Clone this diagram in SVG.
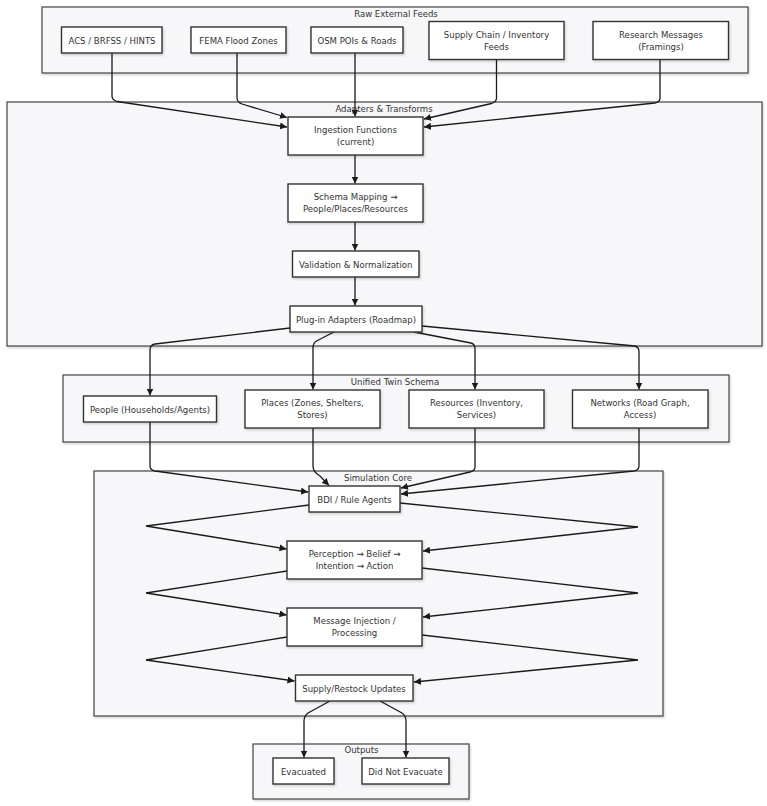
<svg xmlns="http://www.w3.org/2000/svg" width="767" height="806" viewBox="0 0 767 806">
<style>
.cl{fill:#f7f7f9;stroke:#444;stroke-width:1.2}
.nd{fill:#fff;stroke:#333;stroke-width:1.4}
.t{font-family:'DejaVu Sans Condensed','Liberation Sans Narrow','Liberation Sans',sans-serif;font-stretch:condensed;font-size:9.5px;fill:#333;text-anchor:middle}
.ct{font-family:'DejaVu Sans Condensed','Liberation Sans Narrow','Liberation Sans',sans-serif;font-stretch:condensed;font-size:9.5px;fill:#333;text-anchor:middle}
.e{fill:none;stroke:#1a1a1a;stroke-width:1.3;marker-end:url(#ah)}
</style>
<defs>
<marker id="ah" viewBox="0 0 10 10" refX="10" refY="5" markerWidth="7" markerHeight="7" markerUnits="userSpaceOnUse" orient="auto"><path d="M0,0 L10,5 L0,10 z" fill="#1a1a1a"/></marker>
<filter id="sh" x="-5%" y="-5%" width="115%" height="130%"><feDropShadow dx="1" dy="1.5" stdDeviation="1" flood-color="#000" flood-opacity="0.18"/></filter>
</defs>
<rect width="767" height="806" fill="#fff"/>
<g id="clusters">
<g id="raw"><rect class="cl" x="42" y="7" width="706" height="66" filter="url(#sh)"/><text class="ct" x="396" y="17">Raw External Feeds</text></g>
<g id="adapters"><rect class="cl" x="7" y="102" width="755" height="244" filter="url(#sh)"/><text class="ct" x="384" y="112">Adapters &amp; Transforms</text></g>
<g id="unified"><rect class="cl" x="63" y="375" width="666" height="67" filter="url(#sh)"/><text class="ct" x="395" y="385">Unified Twin Schema</text></g>
<g id="simcore"><rect class="cl" x="94" y="471" width="569" height="245" filter="url(#sh)"/><text class="ct" x="378" y="481">Simulation Core</text></g>
<g id="outputs"><rect class="cl" x="253" y="744" width="216" height="55" filter="url(#sh)"/><text class="ct" x="361.5" y="753">Outputs</text></g>
</g>
<g id="connectors">
<path class="e" d="M112,53 V96 Q112,100 117,101.5 L287,127"/>
<path class="e" d="M237,53 V98 Q237,102 242,104 L287,117.5"/>
<path class="e" d="M355,53 V116.5"/>
<path class="e" d="M496.5,59 V98 Q496.5,102 491.5,103.5 L424,119"/>
<path class="e" d="M660,59 V98 Q660,102 655,103 L424,127"/>
<path class="e" d="M355,155 V183.5"/>
<path class="e" d="M355,222 V250.5"/>
<path class="e" d="M355,277 V305.5"/>
<path class="e" d="M290,328 L155,344 Q150,345 150,350 V395.5"/>
<path class="e" d="M334,332 L316.5,341 Q313,343 313,348 V389.5"/>
<path class="e" d="M414,332 L471,343 Q475,344 475,349 V389.5"/>
<path class="e" d="M422,326 L635,346 Q639,347 639,352 V389.5"/>
<path class="e" d="M150,422 V466 Q150,470 155,471 L308,492"/>
<path class="e" d="M313,428 V466 Q313,472 320,476 L329,485.5"/>
<path class="e" d="M475,428 V467 Q475,471 470,472 L401,488"/>
<path class="e" d="M639,428 V466 Q639,470 634,471 L401,494"/>
<path class="e" d="M309,505 L146,526 L286.5,549"/>
<path class="e" d="M400,503 L638,527 L423,551"/>
<path class="e" d="M287,571 L146,593 L286.5,615"/>
<path class="e" d="M422,568 L638,593 L423,617"/>
<path class="e" d="M287,637 L146,660 L294.5,681"/>
<path class="e" d="M422,635 L638,660 L414,682"/>
<path class="e" d="M330,701 L308,713 Q304,716 304,721 V757.5"/>
<path class="e" d="M380,701 L402,713 Q406,716 406,721 V757.5"/>
</g>
<g id="n_acs"><rect class="nd" x="61.5" y="27" width="100.5" height="26" filter="url(#sh)"/><text class="t" x="112" y="43.5">ACS / BRFSS / HINTS</text></g>
<g id="n_fema"><rect class="nd" x="191" y="27" width="95" height="26" filter="url(#sh)"/><text class="t" x="238.5" y="43.5">FEMA Flood Zones</text></g>
<g id="n_osm"><rect class="nd" x="311" y="27" width="92" height="26" filter="url(#sh)"/><text class="t" x="357" y="43.5">OSM POIs &amp; Roads</text></g>
<g id="n_supply"><rect class="nd" x="429" y="21.5" width="135" height="38" filter="url(#sh)"/><text class="t" x="496.5" y="37.5">Supply Chain / Inventory</text><text class="t" x="496.5" y="49.5">Feeds</text></g>
<g id="n_research"><rect class="nd" x="593" y="21.5" width="135.5" height="38" filter="url(#sh)"/><text class="t" x="661" y="37.5">Research Messages</text><text class="t" x="661" y="49.5">(Framings)</text></g>
<g id="n_ingest"><rect class="nd" x="288" y="117" width="135" height="38" filter="url(#sh)"/><text class="t" x="355.5" y="133">Ingestion Functions</text><text class="t" x="355.5" y="145">(current)</text></g>
<g id="n_schema"><rect class="nd" x="288" y="184" width="135" height="38" filter="url(#sh)"/><text class="t" x="355.5" y="200">Schema Mapping →</text><text class="t" x="355.5" y="212">People/Places/Resources</text></g>
<g id="n_valid"><rect class="nd" x="292.5" y="251" width="126.5" height="26" filter="url(#sh)"/><text class="t" x="355.7" y="267.5">Validation &amp; Normalization</text></g>
<g id="n_plugin"><rect class="nd" x="290" y="306" width="132" height="26" filter="url(#sh)"/><text class="t" x="356" y="322.5">Plug-in Adapters (Roadmap)</text></g>
<g id="n_people"><rect class="nd" x="83.5" y="396" width="133" height="26" filter="url(#sh)"/><text class="t" x="150" y="412.5">People (Households/Agents)</text></g>
<g id="n_places"><rect class="nd" x="245" y="390" width="135" height="38" filter="url(#sh)"/><text class="t" x="312.5" y="406">Places (Zones, Shelters,</text><text class="t" x="312.5" y="418">Stores)</text></g>
<g id="n_resources"><rect class="nd" x="409" y="390" width="135" height="38" filter="url(#sh)"/><text class="t" x="476.5" y="406">Resources (Inventory,</text><text class="t" x="476.5" y="418">Services)</text></g>
<g id="n_networks"><rect class="nd" x="572.5" y="390" width="135.5" height="38" filter="url(#sh)"/><text class="t" x="640" y="406">Networks (Road Graph,</text><text class="t" x="640" y="418">Access)</text></g>
<g id="n_bdi"><rect class="nd" x="309" y="486" width="91" height="26" filter="url(#sh)"/><text class="t" x="354.5" y="502.5">BDI / Rule Agents</text></g>
<g id="n_percep"><rect class="nd" x="287" y="541" width="135" height="38" filter="url(#sh)"/><text class="t" x="354.5" y="557">Perception → Belief →</text><text class="t" x="354.5" y="569">Intention → Action</text></g>
<g id="n_msg"><rect class="nd" x="287" y="608" width="135" height="38" filter="url(#sh)"/><text class="t" x="354.5" y="624">Message Injection /</text><text class="t" x="354.5" y="636">Processing</text></g>
<g id="n_restock"><rect class="nd" x="295.5" y="675" width="117.5" height="26" filter="url(#sh)"/><text class="t" x="354" y="691.5">Supply/Restock Updates</text></g>
<g id="n_evac"><rect class="nd" x="273" y="758" width="61" height="26" filter="url(#sh)"/><text class="t" x="303.5" y="774.5">Evacuated</text></g>
<g id="n_notevac"><rect class="nd" x="362" y="758" width="87" height="26" filter="url(#sh)"/><text class="t" x="405.5" y="774.5">Did Not Evacuate</text></g>
</svg>
